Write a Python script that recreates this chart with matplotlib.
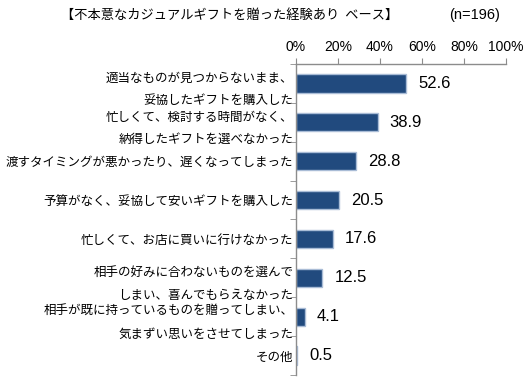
import matplotlib
matplotlib.use('Agg')
import matplotlib.pyplot as plt
import numpy as np

plt.rcParams['font.family'] = ['Noto Sans CJK JP', 'DejaVu Sans']

# data
categories = [
    '適当なものが見つからないまま、\n妥協したギフトを購入した',
    '忙しくて、検討する時間がなく、\n納得したギフトを選べなかった',
    '渡すタイミングが悪かったり、遅くなってしまった',
    '予算がなく、妥協して安いギフトを購入した',
    '忙しくて、お店に買いに行けなかった',
    '相手の好みに合わないものを選んで\nしまい、喜んでもらえなかった',
    '相手が既に持っているものを贈ってしまい、\n気まずい思いをさせてしまった',
    'その他',
]
values = [52.6, 38.9, 28.8, 20.5, 17.6, 12.5, 4.1, 0.5]
x_ticks = [0, 20, 40, 60, 80, 100]

title = '【不本意なカジュアルギフトを贈った経験あり  ベース】'
base_note = '(n=196)'

bar_color = '#214A7E'
edge_color = '#A9BCD6'
axis_color = '#8C8C8C'
num_font = ['Liberation Sans', 'DejaVu Sans']

fig = plt.figure(figsize=(5.3, 3.84), dpi=100)
ax = fig.add_axes([0.5585, 0.0234, 0.3962, 0.81])

y = np.arange(len(categories))
ax.barh(y, values, height=0.47, color=bar_color, edgecolor=edge_color, linewidth=1.0)

ax.set_xlim(0, 100)
ax.set_ylim(len(categories) - 0.5, -0.5)

# percent ticks along the top
ax.set_xticks(x_ticks)
ax.set_xticklabels([f'{v}%' for v in x_ticks], fontsize=10, family=num_font)
ax.tick_params(axis='x', top=True, labeltop=True, bottom=False, labelbottom=False,
               direction='out', length=4, color=axis_color, pad=3)

# category labels on the left, small ticks between the bars
ax.set_yticks(y)
ax.set_yticklabels(categories, fontsize=9, linespacing=1.95)
ax.tick_params(axis='y', which='major', length=0, pad=2)
ax.set_yticks(np.arange(len(categories) + 1) - 0.5, minor=True)
ax.tick_params(axis='y', which='minor', length=4, direction='out', color=axis_color)

for side in ('right', 'bottom'):
    ax.spines[side].set_visible(False)
for side in ('left', 'top'):
    ax.spines[side].set_color(axis_color)
    ax.spines[side].set_linewidth(1.0)

for yi, v in zip(y, values):
    ax.annotate(f'{v:.1f}', xy=(v, yi), xytext=(12, 0), textcoords='offset pixels',
                ha='left', va='center', fontsize=12, family=num_font)

fig.text(0.434, 0.961, title, ha='center', va='center', fontsize=9.5)
fig.text(0.896, 0.961, base_note, ha='center', va='center', fontsize=10.5, family=num_font)

fig.savefig('out.png', dpi=100)
